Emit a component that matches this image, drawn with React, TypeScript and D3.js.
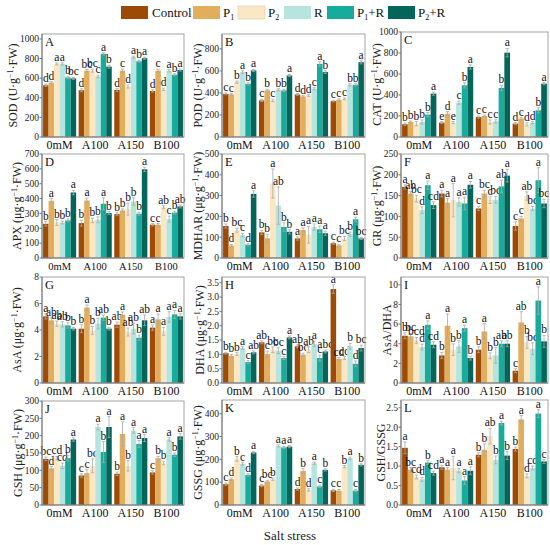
import React from 'react';
import * as d3 from 'd3';

const groups = ['0mM', 'A100', 'A150', 'B100'];
const treatments = ['Control', 'P1', 'P2', 'R', 'P1+R', 'P2+R'];
const colors = ['#9c4a06', '#e2ad5c', '#fbe7c3', '#b6e5df', '#17ab9c', '#04665a'];

// rows = salt groups, columns = treatments
const sodMean = [[527, 555, 745, 745, 607, 597], [476, 676, 676, 617, 848, 717], [479, 676, 514, 814, 772, 803], [469, 676, 486, 676, 634, 683]];
const sodErr = [[12, 10, 10, 12, 12, 10], [15, 12, 15, 12, 12, 15], [15, 15, 15, 10, 10, 10], [12, 15, 12, 12, 10, 10]];
const sodSig = [['d', 'd', 'a', 'a', 'b', 'bc'], ['d', 'bc', 'bc', 'c', 'a', 'b'], ['d', 'c', 'd', 'a', 'b', 'a'], ['d', 'c', 'd', 'a', 'b', 'a']];

const podMean = [[392, 386, 498, 589, 483, 604], [332, 423, 332, 429, 423, 558], [386, 368, 377, 438, 664, 589], [326, 338, 347, 474, 474, 679]];
const podErr = [[8, 8, 10, 12, 10, 10], [10, 10, 10, 10, 10, 10], [8, 8, 8, 10, 20, 12], [8, 8, 8, 10, 10, 15]];
const podSig = [['c', 'c', 'b', 'a', 'b', 'a'], ['c', 'b', 'c', 'b', 'b', 'a'], ['d', 'd', 'd', 'c', 'a', 'b'], ['c', 'c', 'c', 'b', 'b', 'a']];

const catMean = [[121, 143, 127, 143, 213, 413], [137, 222, 137, 327, 492, 667], [190, 200, 143, 149, 467, 803], [127, 175, 121, 137, 254, 508]];
const catErr = [[10, 10, 20, 20, 20, 15], [10, 20, 10, 15, 25, 20], [10, 10, 20, 15, 25, 40], [10, 10, 15, 10, 25, 10]];
const catSig = [['b', 'b', 'b', 'b', 'b', 'a'], ['e', 'd', 'e', 'c', 'b', 'a'], ['c', 'c', 'c', 'c', 'b', 'a'], ['d', 'c', 'd', 'd', 'b', 'a']];

const apxMean = [[230, 385, 239, 239, 253, 441], [235, 387, 253, 257, 365, 302], [295, 320, 329, 380, 298, 597], [224, 224, 342, 262, 306, 347]];
const apxErr = [[15, 15, 20, 10, 10, 15], [20, 15, 15, 20, 40, 10], [10, 10, 40, 25, 10, 15], [8, 8, 10, 20, 10, 10]];
const apxSig = [['b', 'a', 'b', 'b', 'b', 'a'], ['b', 'a', 'b', 'b', 'a', 'b'], ['b', 'b', 'b', 'b', 'b', 'a'], ['c', 'c', 'ab', 'c', 'b', 'ab']];

const mdharMean = [[154, 60, 134, 110, 64, 308], [123, 94, 358, 252, 149, 126], [94, 135, 112, 149, 138, 119], [71, 60, 94, 115, 186, 94]];
const mdharErr = [[10, 5, 10, 8, 5, 15], [10, 20, 70, 90, 20, 10], [8, 10, 40, 15, 15, 10], [5, 5, 10, 10, 10, 5]];
const mdharSig = [['b', 'd', 'bc', 'c', 'd', 'a'], ['b', 'b', 'a', 'ab', 'b', 'b'], ['a', 'a', 'a', 'a', 'a', 'a'], ['c', 'c', 'bc', 'b', 'a', 'bc']];

const grMean = [[171, 155, 143, 115, 175, 127], [155, 133, 139, 135, 131, 176], [119, 155, 139, 140, 172, 198], [77, 95, 149, 119, 187, 131]];
const grErr = [[5, 5, 8, 8, 10, 8], [8, 10, 40, 10, 15, 8], [5, 8, 8, 8, 15, 15], [10, 5, 10, 5, 30, 10]];
const grSig = [['a', 'ab', 'bc', 'd', 'a', 'cd'], ['a', 'a', 'a', 'a', 'a', 'a'], ['c', 'bc', 'c', 'bc', 'ab', 'a'], ['c', 'c', 'ab', 'bc', 'a', 'bc']];

const asaMean = [[5.03, 4.73, 4.48, 4.43, 4.35, 4.1], [4.1, 5.69, 3.97, 4.48, 4.93, 4.1], [4.4, 5.16, 3.85, 4.1, 3.42, 4.73], [4.18, 4.8, 3.9, 4.98, 5.18, 5.03]];
const asaErr = [[0.2, 0.2, 0.2, 0.2, 0.2, 0.1], [0.3, 0.2, 0.3, 0.4, 0.2, 0.1], [0.2, 0.2, 0.3, 0.4, 0.2, 0.4], [0.2, 0.4, 0.3, 0.4, 0.3, 0.2]];
const asaSig = [['a', 'ab', 'ab', 'ab', 'b', 'b'], ['b', 'a', 'b', 'b', 'ab', 'b'], ['ab', 'a', 'ab', 'ab', 'b', 'ab'], ['a', 'a', 'a', 'a', 'a', 'a']];

const dhaMean = [[1.04, 0.95, 1.01, 1.22, 0.73, 1.07], [1.42, 1.01, 1.16, 1.13, 0.87, 1.59], [1.28, 0.99, 1.16, 1.37, 0.87, 1.1], [3.28, 0.84, 0.87, 1.28, 0.67, 1.22]];
const dhaErr = [[0.03, 0.05, 0.05, 0.05, 0.05, 0.05], [0.05, 0.1, 0.1, 0.1, 0.05, 0.05], [0.05, 0.05, 0.1, 0.1, 0.1, 0.05], [0.15, 0.05, 0.05, 0.1, 0.1, 0.1]];
const dhaSig = [['b', 'b', 'b', 'a', 'c', 'ab'], ['ab', 'c', 'bc', 'bc', 'c', 'a'], ['ab', 'bc', 'ab', 'a', 'c', 'abc'], ['a', 'cd', 'cd', 'b', 'd', 'bc']];

const ratioMean = [[4.81, 4.75, 4.34, 3.66, 5.93, 3.9], [2.81, 5.83, 3.39, 3.73, 5.59, 2.54], [3.39, 5.25, 2.78, 2.81, 4.0, 4.0], [1.25, 6.17, 4.14, 3.49, 8.4, 4.24]];
const ratioErr = [[0.3, 0.3, 0.3, 0.3, 0.4, 0.3], [0.3, 1.2, 0.6, 0.6, 0.3, 0.2], [0.3, 0.8, 0.3, 0.8, 0.3, 0.3], [0.2, 1.1, 0.6, 0.6, 1.4, 0.6]];
const ratioSig = [['b', 'bc', 'bcd', 'd', 'a', 'cd'], ['b', 'a', 'b', 'b', 'a', 'b'], ['b', 'a', 'b', 'b', 'ab', 'ab'], ['c', 'ab', 'b', 'bc', 'a', 'b']];

const gshMean = [[133, 106, 135, 113, 135, 189], [85, 92, 113, 225, 153, 225], [90, 205, 113, 215, 176, 193], [94, 135, 121, 189, 145, 198]];
const gshErr = [[5, 5, 5, 8, 8, 5], [5, 10, 20, 8, 30, 30], [5, 35, 15, 8, 10, 10], [5, 5, 5, 5, 5, 8]];
const gshSig = [['bc', 'd', 'cd', 'cd', 'b', 'a'], ['c', 'c', 'bc', 'a', 'b', 'a'], ['b', 'a', 'b', 'a', 'a', 'a'], ['c', 'b', 'b', 'a', 'b', 'a']];

const gssgMean = [[91, 113, 202, 180, 132, 230], [85, 103, 113, 259, 252, 256], [70, 149, 66, 183, 81, 154], [64, 63, 168, 205, 63, 176]];
const gssgErr = [[5, 5, 10, 5, 5, 5], [5, 5, 5, 5, 5, 5], [5, 10, 5, 5, 5, 5], [5, 5, 5, 5, 5, 5]];
const gssgSig = [['c', 'd', 'b', 'c', 'd', 'a'], ['c', 'bc', 'b', 'a', 'a', 'a'], ['d', 'b', 'd', 'a', 'c', 'b'], ['c', 'c', 'b', 'a', 'c', 'b']];

const gsMean = [[1.47, 0.91, 0.72, 0.66, 1.09, 0.82], [0.97, 0.91, 0.95, 0.89, 0.63, 0.88], [1.29, 1.42, 1.77, 1.16, 2.11, 1.27], [1.44, 2.2, 0.75, 0.95, 2.35, 1.12]];
const gsErr = [[0.15, 0.05, 0.05, 0.05, 0.05, 0.05], [0.05, 0.05, 0.3, 0.05, 0.1, 0.1], [0.05, 0.15, 0.2, 0.1, 0.05, 0.1], [0.05, 0.1, 0.05, 0.05, 0.1, 0.05]];
const gsSig = [['a', 'bc', 'cd', 'd', 'b', 'cd'], ['a', 'a', 'a', 'a', 'a', 'a'], ['b', 'b', 'ab', 'b', 'a', 'b'], ['b', 'a', 'd', 'cd', 'a', 'c']];

const colLeft = [42, 222, 401];
const colRight = [184, 365, 548];
const rowTop = [34, 154, 277, 400];
const rowBottom = [137, 258, 383, 505];

const FONT = '"Liberation Serif", "Times New Roman", serif';

interface PanelDef {
  tag: string;
  name: string;
  unit: string | null;
  max: number;
  ticks: number[];
  dec: number;
  mean: number[][];
  err: number[][];
  sig: string[][];
  titleOff: number;
  top?: number;
}

const panels: PanelDef[] = [
  { tag: 'A', name: 'SOD', unit: 'U', max: 1050, ticks: [0, 200, 400, 600, 800, 1000], dec: 0, mean: sodMean, err: sodErr, sig: sodSig, titleOff: 25 },
  { tag: 'B', name: 'POD', unit: 'U', max: 935, ticks: [0, 200, 400, 600, 800], dec: 0, mean: podMean, err: podErr, sig: podSig, titleOff: 20 },
  { tag: 'C', name: 'CAT', unit: 'U', max: 1000, ticks: [0, 200, 400, 600, 800, 1000], dec: 0, mean: catMean, err: catErr, sig: catSig, titleOff: 20, top: 32 },
  { tag: 'D', name: 'APX', unit: 'μg', max: 700, ticks: [0, 100, 200, 300, 400, 500, 600, 700], dec: 0, mean: apxMean, err: apxErr, sig: apxSig, titleOff: 21 },
  { tag: 'E', name: 'MDHAR', unit: 'μg', max: 500, ticks: [0, 100, 200, 300, 400, 500], dec: 0, mean: mdharMean, err: mdharErr, sig: mdharSig, titleOff: 20 },
  { tag: 'F', name: 'GR', unit: 'μg', max: 250, ticks: [0, 50, 100, 150, 200, 250], dec: 0, mean: grMean, err: grErr, sig: grSig, titleOff: 20 },
  { tag: 'G', name: 'AsA', unit: 'μg', max: 8, ticks: [0, 2, 4, 6, 8], dec: 0, mean: asaMean, err: asaErr, sig: asaSig, titleOff: 21 },
  { tag: 'H', name: 'DHA', unit: 'μg', max: 3.7, ticks: [0, 0.5, 1, 1.5, 2, 2.5, 3, 3.5], dec: 1, mean: dhaMean, err: dhaErr, sig: dhaSig, titleOff: 18 },
  { tag: 'I', name: 'AsA/DHA', unit: null, max: 10.8, ticks: [0, 2, 4, 6, 8, 10], dec: 0, mean: ratioMean, err: ratioErr, sig: ratioSig, titleOff: 10 },
  { tag: 'J', name: 'GSH', unit: 'μg', max: 300, ticks: [0, 50, 100, 150, 200, 250, 300], dec: 0, mean: gshMean, err: gshErr, sig: gshSig, titleOff: 20, top: 401 },
  { tag: 'K', name: 'GSSG', unit: 'μg', max: 460, ticks: [0, 100, 200, 300, 400], dec: 0, mean: gssgMean, err: gssgErr, sig: gssgSig, titleOff: 20 },
  { tag: 'L', name: 'GSH/GSSG', unit: null, max: 2.7, ticks: [0, 0.5, 1, 1.5, 2, 2.5], dec: 1, mean: gsMean, err: gsErr, sig: gsSig, titleOff: 16 },
];

function Panel({ p, index }: { p: PanelDef; index: number }) {
  const col = index % 3;
  const row = Math.floor(index / 3);
  const left = colLeft[col];
  const right = colRight[col];
  const top = p.top ?? rowTop[row];
  const bottom = rowBottom[row];

  const x = d3.scaleBand().domain(groups).range([left, right]).paddingInner(0.07).paddingOuter(0.03);
  const xi = d3.scaleBand().domain(treatments).range([0, x.bandwidth()]);
  const y = d3.scaleLinear().domain([0, p.max]).range([bottom, top]);
  const fmt = d3.format(`.${p.dec}f`);
  const midY = (top + bottom) / 2;
  const groupFont = p.tag === 'D' ? 10.5 : 12;

  return (
    <g>
      {groups.map((grp, gi) =>
        treatments.map((t, ti) => {
          const v = p.mean[gi][ti];
          const e = p.err[gi][ti];
          const bx = (x(grp) ?? 0) + (xi(t) ?? 0);
          const bw = xi.bandwidth();
          const cx = bx + bw / 2;
          return (
            <g key={grp + t}>
              <rect x={bx} y={y(v)} width={bw} height={bottom - y(v)} fill={colors[ti]} />
              <line x1={cx} x2={cx} y1={y(v - e)} y2={y(v + e)} stroke="#a9a9a9" strokeWidth={0.8} />
              <line x1={cx - 1.6} x2={cx + 1.6} y1={y(v + e)} y2={y(v + e)} stroke="#a9a9a9" strokeWidth={0.8} />
              <line x1={cx - 1.6} x2={cx + 1.6} y1={y(v - e)} y2={y(v - e)} stroke="#a9a9a9" strokeWidth={0.8} />
              <text x={cx} y={y(v + e) - 2} textAnchor="middle" fontSize={11.5} fill="#111">
                {p.sig[gi][ti]}
              </text>
            </g>
          );
        })
      )}
      <rect x={left} y={top} width={right - left} height={bottom - top} fill="none" stroke="#9a9a9a" strokeWidth={0.9} />
      <line x1={left} x2={left} y1={top} y2={bottom} stroke="#777" strokeWidth={1} />
      <line x1={left} x2={right} y1={bottom} y2={bottom} stroke="#777" strokeWidth={1} />
      {p.ticks.map(t => (
        <g key={t}>
          <line x1={left - 2.5} x2={left} y1={y(t)} y2={y(t)} stroke="#777" />
          <text x={left - 3} y={y(t)} dy="0.35em" textAnchor="end" fontSize={9.5} fill="#222">
            {fmt(t)}
          </text>
        </g>
      ))}
      {groups.map(grp => (
        <text key={grp} x={(x(grp) ?? 0) + x.bandwidth() / 2} y={bottom + 12} textAnchor="middle" fontSize={groupFont} fill="#111">
          {grp}
        </text>
      ))}
      <text x={left + 3} y={top + 12} fontSize={12.5} fill="#111">{p.tag}</text>
      <text
        transform={`translate(${left - p.titleOff},${midY}) rotate(-90)`}
        textAnchor="middle"
        fontSize={12}
        fill="#222"
      >
        {p.unit ? (
          <>
            {`${p.name} (${p.unit}·g`}
            <tspan dy={-4} fontSize={8}>−1</tspan>
            <tspan dy={4}>·FW)</tspan>
          </>
        ) : (
          p.name
        )}
      </text>
    </g>
  );
}

const legendItems = [
  { label: 'Control', sub: '', suffix: '', sx: 121, tx: 152 },
  { label: 'P', sub: '1', suffix: '', sx: 193, tx: 223 },
  { label: 'P', sub: '2', suffix: '', sx: 238, tx: 268 },
  { label: 'R', sub: '', suffix: '', sx: 284, tx: 314 },
  { label: 'P', sub: '1', suffix: '+R', sx: 327, tx: 357 },
  { label: 'P', sub: '2', suffix: '+R', sx: 388, tx: 418 },
];

export default function App() {
  return (
    <svg
      width={550}
      height={545}
      style={{ position: 'absolute', left: 0, top: 0, background: '#fff' }}
      fontFamily={FONT}
    >
      {legendItems.map((l, i) => (
        <g key={i}>
          <rect x={l.sx} y={6} width={27} height={13} fill={colors[i]} stroke={i === 2 ? '#d9c9a8' : 'none'} strokeWidth={0.6} />
          <text x={l.tx} y={17} fontSize={13} fill="#111">
            {l.label}
            {l.sub && <tspan dy={3} fontSize={8}>{l.sub}</tspan>}
            {l.suffix && <tspan dy={-3}>{l.suffix}</tspan>}
          </text>
        </g>
      ))}
      {panels.map((p, i) => (
        <Panel key={p.tag} p={p} index={i} />
      ))}
      <text x={290} y={540} textAnchor="middle" fontSize={13} fill="#222">Salt stress</text>
    </svg>
  );
}
